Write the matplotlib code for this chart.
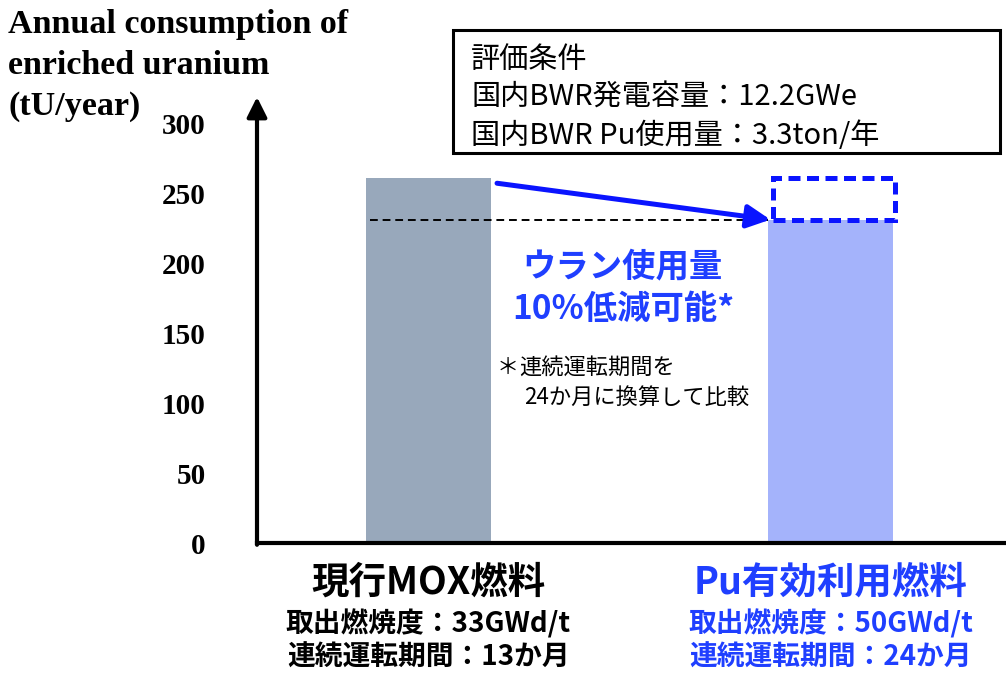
import matplotlib
matplotlib.use("Agg")
import matplotlib.pyplot as plt
from matplotlib.patches import Rectangle
from matplotlib.transforms import blended_transform_factory

# data
fuels = ["現行MOX燃料", "Pu有効利用燃料"]
consumption = [261, 231]  # tU/year
burnup = ["取出燃焼度：33GWd/t", "取出燃焼度：50GWd/t"]
cycle = ["連続運転期間：13か月", "連続運転期間：24か月"]
yticks = [0, 50, 100, 150, 200, 250, 300]
conditions = ["評価条件", "国内BWR発電容量：12.2GWe", "国内BWR Pu使用量：3.3ton/年"]
reduction = ["ウラン使用量", "10%低減可能*"]
note_mark = "＊"
note = ["連続運転期間を", "24か月に換算して比較"]
ylabel = ["Annual consumption of", "enriched uranium", "(tU/year)"]

CJK = ["Noto Sans CJK JP", "DejaVu Sans"]
SERIF = "Liberation Serif"
BLUE = "#1f3fff"
plt.rcParams["font.family"] = CJK

W, H = 1006, 675


def fx(x):
    return x / W


def fy(y):
    return 1 - y / H


fig = plt.figure(figsize=(W / 100, H / 100), dpi=100)
ax = fig.add_axes([fx(257), fy(543), fx(1006) - fx(257), (543 - 97) / H])

x = [0, 1]
w = 0.311
ax.bar(x, consumption, width=w, color=["#98a8bb", "#a4b3fb"], zorder=1)
ax.set_xlim(-0.4266, 1.4366)
ax.set_ylim(0, 318.6)

for s in ["top", "right", "left"]:
    ax.spines[s].set_visible(False)
ax.spines["bottom"].set_linewidth(3)
ax.spines["bottom"].set_color("black")

# y axis with arrow head
ax.annotate("", xy=(0, 1), xytext=(0, -0.004), xycoords="axes fraction",
            arrowprops=dict(arrowstyle="-|>,head_length=0.6,head_width=0.3",
                            mutation_scale=20, lw=3, color="black",
                            shrinkA=0, shrinkB=0),
            annotation_clip=False)

ax.set_xticks([])
ax.set_yticks(yticks)
ax.set_yticklabels([str(t) for t in yticks], fontfamily=SERIF,
                   fontweight="bold", fontsize=21)
ax.tick_params(axis="y", length=0, pad=37)

# reduction marks
ax.hlines(consumption[1], -w / 2 + 0.01, 1 - w / 2, colors="black",
          linestyles=(0, (4, 2.5)), lw=1.4, zorder=3)
ax.annotate("", xy=(1 - w / 2 + 0.006, consumption[1]),
            xytext=(w / 2 + 0.015, consumption[0] - 4),
            arrowprops=dict(arrowstyle="-|>,head_length=0.7,head_width=0.35",
                            mutation_scale=20, lw=3.6, color="#0a14ff",
                            shrinkA=0, shrinkB=0))
ax.add_patch(Rectangle((1 - w / 2 + 0.012, consumption[1]), w - 0.008,
                       consumption[0] - consumption[1], fill=False,
                       ec="#0a14ff", lw=3.6, ls=(0, (2.4, 1.3)),
                       zorder=4, clip_on=False))

# y label (top left)
for txt, y in zip(ylabel, [25, 65, 106]):
    fig.text(fx(8), fy(y), txt, ha="left", va="center", fontfamily=SERIF,
             fontweight="bold", fontsize=24.5)

# condition box
fig.add_artist(Rectangle((fx(453), fy(153)), fx(1000) - fx(453), (153 - 30) / H,
                         transform=fig.transFigure, fill=False, ec="black", lw=2.2))
for txt, y in zip(conditions, [60, 98, 136]):
    fig.text(fx(471), fy(y), txt, ha="left", va="center", fontsize=21)

# blue statement and note
for txt, y in zip(reduction, [267, 309]):
    fig.text(fx(623), fy(y), txt, ha="center", va="center", fontsize=24,
             fontweight="bold", color=BLUE)
fig.text(fx(497), fy(367), note_mark, ha="left", va="center", fontsize=16)
fig.text(fx(519), fy(367), note[0], ha="left", va="center", fontsize=16)
fig.text(fx(524), fy(397), note[1], ha="left", va="center", fontsize=16)

# category labels under the bars
tr = blended_transform_factory(ax.transData, fig.transFigure)
colors = ["black", BLUE]
for i in range(len(fuels)):
    ax.text(x[i], fy(582), fuels[i], transform=tr, ha="center", va="center",
            fontsize=27, fontweight="bold", color=colors[i])
    ax.text(x[i], fy(624), burnup[i], transform=tr, ha="center", va="center",
            fontsize=20, fontweight="bold", color=colors[i])
    ax.text(x[i], fy(658), cycle[i], transform=tr, ha="center", va="center",
            fontsize=20, fontweight="bold", color=colors[i])

fig.savefig("out.png", dpi=100)
